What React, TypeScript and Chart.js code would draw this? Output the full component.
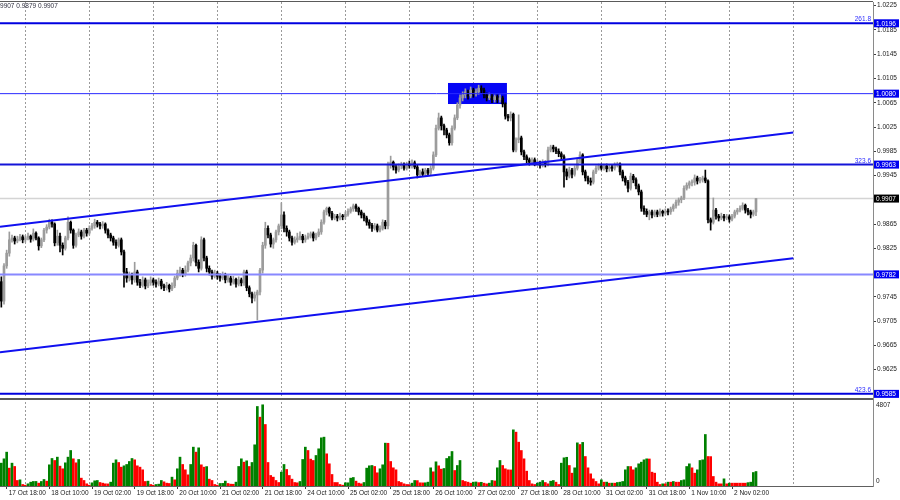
import React, { useEffect, useRef } from "react";
import { Chart, registerables } from "chart.js";

Chart.register(...registerables);

// ---- DATA ----
// hourly candles [open, high, low, close], first bar = 17 Oct 16:00
const ohlc: [number, number, number, number][] = [
  [0.9770,0.9778,0.9728,0.9738],[0.9738,0.9800,0.9733,0.9796],[0.9796,0.9822,0.9792,0.9817],[0.9817,0.9852,0.9812,0.9839],
  [0.9839,0.9847,0.9835,0.9842],[0.9842,0.9845,0.9832,0.9837],[0.9837,0.9845,0.9834,0.9840],[0.9840,0.9848,0.9837,0.9844],
  [0.9844,0.9847,0.9834,0.9839],[0.9839,0.9846,0.9835,0.9842],[0.9842,0.9850,0.9839,0.9845],[0.9845,0.9847,0.9835,0.9840],
  [0.9840,0.9857,0.9837,0.9850],[0.9850,0.9852,0.9839,0.9842],[0.9842,0.9844,0.9822,0.9829],[0.9829,0.9842,0.9826,0.9839],
  [0.9839,0.9858,0.9836,0.9855],[0.9855,0.9864,0.9850,0.9860],[0.9860,0.9873,0.9857,0.9868],[0.9868,0.9872,0.9860,0.9865],
  [0.9865,0.9867,0.9829,0.9834],[0.9834,0.9855,0.9830,0.9845],[0.9845,0.9850,0.9819,0.9830],[0.9830,0.9834,0.9814,0.9825],
  [0.9825,0.9845,0.9822,0.9842],[0.9842,0.9877,0.9839,0.9868],[0.9868,0.9870,0.9850,0.9855],[0.9855,0.9857,0.9825,0.9830],
  [0.9830,0.9850,0.9827,0.9847],[0.9847,0.9857,0.9844,0.9852],[0.9852,0.9855,0.9840,0.9845],[0.9845,0.9858,0.9842,0.9855],
  [0.9855,0.9858,0.9845,0.9850],[0.9850,0.9862,0.9847,0.9858],[0.9858,0.9866,0.9855,0.9862],[0.9862,0.9873,0.9858,0.9868],
  [0.9868,0.9871,0.9860,0.9865],[0.9865,0.9868,0.9857,0.9862],[0.9862,0.9869,0.9858,0.9865],[0.9865,0.9867,0.9850,0.9855],
  [0.9855,0.9857,0.9842,0.9847],[0.9847,0.9850,0.9837,0.9842],[0.9842,0.9845,0.9830,0.9835],[0.9835,0.9839,0.9825,0.9830],
  [0.9830,0.9842,0.9827,0.9839],[0.9839,0.9842,0.9814,0.9819],[0.9819,0.9822,0.9761,0.9786],[0.9786,0.9792,0.9769,0.9776],
  [0.9776,0.9786,0.9771,0.9781],[0.9781,0.9784,0.9766,0.9773],[0.9773,0.9802,0.9769,0.9786],[0.9786,0.9789,0.9764,0.9769],
  [0.9769,0.9774,0.9760,0.9764],[0.9764,0.9778,0.9761,0.9773],[0.9773,0.9776,0.9758,0.9763],[0.9763,0.9773,0.9760,0.9768],
  [0.9768,0.9778,0.9764,0.9773],[0.9773,0.9776,0.9764,0.9769],[0.9769,0.9773,0.9761,0.9766],[0.9766,0.9776,0.9763,0.9771],
  [0.9771,0.9774,0.9758,0.9763],[0.9763,0.9766,0.9755,0.9760],[0.9760,0.9769,0.9756,0.9764],[0.9764,0.9766,0.9753,0.9758],
  [0.9758,0.9768,0.9755,0.9763],[0.9763,0.9779,0.9760,0.9776],[0.9776,0.9789,0.9773,0.9784],[0.9784,0.9794,0.9779,0.9789],
  [0.9789,0.9792,0.9778,0.9783],[0.9783,0.9796,0.9779,0.9789],[0.9789,0.9804,0.9786,0.9801],[0.9801,0.9814,0.9796,0.9809],
  [0.9809,0.9835,0.9804,0.9830],[0.9830,0.9832,0.9796,0.9802],[0.9802,0.9806,0.9786,0.9792],[0.9792,0.9844,0.9789,0.9839],
  [0.9839,0.9842,0.9804,0.9809],[0.9809,0.9812,0.9786,0.9792],[0.9792,0.9796,0.9781,0.9786],[0.9786,0.9789,0.9774,0.9779],
  [0.9779,0.9789,0.9776,0.9784],[0.9784,0.9787,0.9774,0.9779],[0.9779,0.9783,0.9771,0.9776],[0.9776,0.9786,0.9773,0.9781],
  [0.9781,0.9784,0.9768,0.9773],[0.9773,0.9781,0.9769,0.9776],[0.9776,0.9779,0.9764,0.9769],[0.9769,0.9779,0.9766,0.9774],
  [0.9774,0.9776,0.9761,0.9766],[0.9766,0.9778,0.9763,0.9773],[0.9773,0.9776,0.9763,0.9768],[0.9768,0.9789,0.9764,0.9786],
  [0.9786,0.9789,0.9755,0.9760],[0.9760,0.9763,0.9745,0.9750],[0.9750,0.9753,0.9735,0.9743],[0.9743,0.9753,0.9738,0.9748],
  [0.9748,0.9756,0.9707,0.9753],[0.9753,0.9792,0.9748,0.9789],[0.9789,0.9835,0.9784,0.9830],[0.9830,0.9868,0.9825,0.9858],
  [0.9858,0.9862,0.9842,0.9847],[0.9847,0.9850,0.9827,0.9832],[0.9832,0.9842,0.9825,0.9839],[0.9839,0.9855,0.9835,0.9852],
  [0.9852,0.9865,0.9847,0.9862],[0.9862,0.9900,0.9857,0.9880],[0.9880,0.9885,0.9852,0.9858],[0.9858,0.9862,0.9845,0.9852],
  [0.9852,0.9855,0.9837,0.9842],[0.9842,0.9845,0.9830,0.9835],[0.9835,0.9844,0.9832,0.9839],[0.9839,0.9850,0.9835,0.9842],
  [0.9842,0.9852,0.9839,0.9845],[0.9845,0.9848,0.9834,0.9839],[0.9839,0.9847,0.9835,0.9842],[0.9842,0.9850,0.9840,0.9845],
  [0.9845,0.9852,0.9842,0.9849],[0.9849,0.9852,0.9837,0.9842],[0.9842,0.9850,0.9839,0.9847],[0.9847,0.9857,0.9844,0.9852],
  [0.9852,0.9872,0.9848,0.9868],[0.9868,0.9888,0.9865,0.9885],[0.9885,0.9893,0.9880,0.9891],[0.9891,0.9893,0.9878,0.9883],
  [0.9883,0.9886,0.9872,0.9875],[0.9875,0.9881,0.9872,0.9878],[0.9878,0.9881,0.9870,0.9875],[0.9875,0.9883,0.9872,0.9878],
  [0.9878,0.9881,0.9872,0.9877],[0.9877,0.9885,0.9873,0.9881],[0.9881,0.9890,0.9878,0.9886],[0.9886,0.9893,0.9883,0.9890],
  [0.9890,0.9898,0.9886,0.9895],[0.9895,0.9898,0.9886,0.9891],[0.9891,0.9893,0.9880,0.9885],[0.9885,0.9888,0.9875,0.9880],
  [0.9880,0.9883,0.9870,0.9875],[0.9875,0.9878,0.9863,0.9868],[0.9868,0.9872,0.9858,0.9863],[0.9863,0.9866,0.9853,0.9858],
  [0.9858,0.9866,0.9855,0.9862],[0.9862,0.9865,0.9852,0.9855],[0.9855,0.9862,0.9852,0.9858],[0.9858,0.9872,0.9855,0.9868],
  [0.9868,0.9871,0.9857,0.9862],[0.9862,0.9967,0.9857,0.9962],[0.9962,0.9977,0.9957,0.9967],[0.9967,0.9969,0.9954,0.9959],
  [0.9959,0.9962,0.9949,0.9954],[0.9954,0.9964,0.9951,0.9961],[0.9961,0.9967,0.9956,0.9962],[0.9962,0.9966,0.9954,0.9957],
  [0.9957,0.9967,0.9954,0.9964],[0.9964,0.9969,0.9957,0.9961],[0.9961,0.9971,0.9957,0.9966],[0.9966,0.9969,0.9956,0.9959],
  [0.9959,0.9962,0.9941,0.9946],[0.9946,0.9954,0.9944,0.9951],[0.9951,0.9956,0.9944,0.9947],[0.9947,0.9957,0.9944,0.9954],
  [0.9954,0.9957,0.9946,0.9949],[0.9949,0.9961,0.9946,0.9957],[0.9957,0.9984,0.9954,0.9979],[0.9979,1.0028,0.9976,1.0023],
  [1.0023,1.0048,1.0020,1.0040],[1.0040,1.0043,1.0020,1.0027],[1.0027,1.0030,1.0012,1.0020],[1.0020,1.0023,1.0007,1.0012],
  [1.0012,1.0015,0.9995,0.9999],[0.9999,1.0027,0.9995,1.0023],[1.0023,1.0045,1.0020,1.0040],[1.0040,1.0065,1.0037,1.0061],
  [1.0061,1.0078,1.0056,1.0073],[1.0073,1.0083,1.0068,1.0078],[1.0078,1.0088,1.0073,1.0083],[1.0083,1.0086,1.0071,1.0076],
  [1.0076,1.0091,1.0073,1.0086],[1.0086,1.0089,1.0074,1.0079],[1.0079,1.0088,1.0076,1.0083],[1.0083,1.0094,1.0079,1.0089],
  [1.0089,1.0093,1.0081,1.0086],[1.0086,1.0089,1.0073,1.0078],[1.0078,1.0081,1.0068,1.0073],[1.0073,1.0081,1.0070,1.0076],
  [1.0076,1.0079,1.0065,1.0070],[1.0070,1.0078,1.0066,1.0075],[1.0075,1.0078,1.0065,1.0070],[1.0070,1.0078,1.0066,1.0073],
  [1.0073,1.0076,1.0058,1.0063],[1.0063,1.0065,1.0038,1.0043],[1.0043,1.0046,1.0035,1.0040],[1.0040,1.0050,1.0035,1.0046],
  [1.0046,1.0048,0.9984,0.9987],[0.9987,1.0007,0.9984,1.0004],[1.0004,1.0045,0.9999,1.0007],[1.0007,1.0010,0.9979,0.9984],
  [0.9984,0.9987,0.9971,0.9976],[0.9976,0.9979,0.9966,0.9971],[0.9971,0.9974,0.9962,0.9967],[0.9967,0.9974,0.9964,0.9971],
  [0.9971,0.9974,0.9961,0.9966],[0.9966,0.9971,0.9962,0.9967],[0.9967,0.9969,0.9957,0.9962],[0.9962,0.9971,0.9959,0.9967],
  [0.9967,0.9969,0.9959,0.9964],[0.9964,0.9992,0.9961,0.9987],[0.9987,0.9995,0.9984,0.9992],[0.9992,0.9995,0.9984,0.9989],
  [0.9989,0.9992,0.9981,0.9985],[0.9985,0.9989,0.9976,0.9981],[0.9981,0.9984,0.9971,0.9976],[0.9976,0.9979,0.9926,0.9951],
  [0.9951,0.9956,0.9938,0.9944],[0.9944,0.9959,0.9941,0.9954],[0.9954,0.9957,0.9941,0.9947],[0.9947,0.9961,0.9944,0.9957],
  [0.9957,0.9974,0.9954,0.9971],[0.9971,0.9984,0.9966,0.9979],[0.9979,0.9981,0.9946,0.9951],[0.9951,0.9954,0.9936,0.9941],
  [0.9941,0.9944,0.9931,0.9936],[0.9936,0.9941,0.9929,0.9934],[0.9934,0.9954,0.9931,0.9951],[0.9951,0.9961,0.9948,0.9957],
  [0.9957,0.9964,0.9954,0.9961],[0.9961,0.9964,0.9954,0.9957],[0.9957,0.9964,0.9954,0.9961],[0.9961,0.9964,0.9951,0.9956],
  [0.9956,0.9962,0.9952,0.9959],[0.9959,0.9962,0.9952,0.9957],[0.9957,0.9966,0.9954,0.9962],[0.9962,0.9967,0.9959,0.9964],
  [0.9964,0.9966,0.9946,0.9951],[0.9951,0.9954,0.9936,0.9941],[0.9941,0.9944,0.9929,0.9934],[0.9934,0.9937,0.9918,0.9924],
  [0.9924,0.9949,0.9921,0.9944],[0.9944,0.9947,0.9933,0.9938],[0.9938,0.9941,0.9923,0.9928],[0.9928,0.9931,0.9913,0.9918],
  [0.9918,0.9921,0.9886,0.9891],[0.9891,0.9895,0.9881,0.9886],[0.9886,0.9890,0.9877,0.9881],[0.9881,0.9888,0.9872,0.9885],
  [0.9885,0.9888,0.9875,0.9880],[0.9880,0.9888,0.9877,0.9885],[0.9885,0.9888,0.9877,0.9881],[0.9881,0.9890,0.9878,0.9886],
  [0.9886,0.9888,0.9878,0.9883],[0.9883,0.9890,0.9880,0.9886],[0.9886,0.9890,0.9880,0.9885],[0.9885,0.9893,0.9881,0.9890],
  [0.9890,0.9898,0.9886,0.9895],[0.9895,0.9905,0.9891,0.9901],[0.9901,0.9908,0.9896,0.9905],[0.9905,0.9911,0.9900,0.9908],
  [0.9908,0.9928,0.9905,0.9924],[0.9924,0.9933,0.9921,0.9929],[0.9929,0.9936,0.9924,0.9933],[0.9933,0.9938,0.9928,0.9934],
  [0.9934,0.9946,0.9929,0.9941],[0.9941,0.9944,0.9931,0.9936],[0.9936,0.9942,0.9933,0.9938],[0.9938,0.9944,0.9934,0.9941],
  [0.9941,0.9954,0.9933,0.9936],[0.9936,0.9938,0.9867,0.9872],[0.9872,0.9875,0.9855,0.9868],[0.9868,0.9908,0.9865,0.9888],
  [0.9888,0.9891,0.9873,0.9878],[0.9878,0.9881,0.9870,0.9875],[0.9875,0.9883,0.9872,0.9878],[0.9878,0.9881,0.9870,0.9875],
  [0.9875,0.9881,0.9872,0.9877],[0.9877,0.9880,0.9868,0.9873],[0.9873,0.9881,0.9870,0.9878],[0.9878,0.9888,0.9875,0.9885],
  [0.9885,0.9891,0.9881,0.9888],[0.9888,0.9895,0.9885,0.9891],[0.9891,0.9900,0.9888,0.9896],[0.9896,0.9898,0.9883,0.9888],
  [0.9888,0.9891,0.9880,0.9885],[0.9885,0.9888,0.9875,0.9881],[0.9881,0.9888,0.9878,0.9885],[0.9885,0.9907,0.9879,0.9907],
];

const volumes: number[] = [
  1353,1609,2004,1057,1353,1156,327,366,90,50,
  130,228,268,270,169,268,386,287,1254,1629,
  1511,1708,1175,1018,1372,1708,2102,1609,1372,1570,
  465,327,130,50,189,307,327,208,169,130,
  125,228,1353,1550,1392,1116,1195,1274,1451,1629,
  1550,1195,1116,958,268,287,90,50,90,110,
  327,248,169,150,524,366,1018,1708,1274,958,
  662,1274,2300,2004,2260,1254,1116,1150,406,327,
  90,50,150,155,290,150,110,105,228,1156,
  1609,1412,1491,1156,1392,2438,4707,4075,4807,3641,
  1392,623,524,327,208,820,1274,978,623,406,
  208,189,268,1570,2300,2102,1590,1511,1806,2201,
  2852,2892,1905,1313,682,208,205,90,50,189,
  190,465,504,287,169,130,208,1057,1195,1215,
  1156,781,1018,1254,2537,2530,1451,1077,958,268,
  208,130,90,85,169,327,320,189,185,190,
  228,1077,840,1431,1195,998,1037,1629,1746,2042,
  918,1214,1510,326,267,227,168,227,240,200,
  220,168,128,168,326,300,1076,1510,1214,1017,
  957,950,3325,3187,2595,2101,1608,878,326,128,
  89,168,227,326,207,128,286,326,227,89,
  1352,1668,1700,1214,760,1076,2555,2456,2580,1746,
  1076,720,424,267,128,365,227,230,168,170,
  168,207,227,267,957,1155,1150,957,1076,1313,
  1411,1549,1608,1600,819,760,227,89,128,128,
  227,227,267,227,227,326,365,1155,1313,1076,
  760,957,1510,1549,3049,1746,1740,563,227,128,
  128,424,128,168,168,168,168,168,168,168,
  200,227,799,858,
];

const xTickLabels = [
  "17 Oct 18:00", "18 Oct 10:00", "19 Oct 02:00", "19 Oct 18:00", "20 Oct 10:00",
  "21 Oct 02:00", "21 Oct 18:00", "24 Oct 10:00", "25 Oct 02:00", "25 Oct 18:00",
  "26 Oct 10:00", "27 Oct 02:00", "27 Oct 18:00", "28 Oct 10:00", "31 Oct 02:00",
  "31 Oct 18:00", "1 Nov 10:00", "2 Nov 02:00",
];
const yTickValues = [1.0225, 1.0185, 1.0145, 1.0105, 1.0065, 1.0025, 0.9985, 0.9945, 0.9865, 0.9825, 0.9745, 0.9705, 0.9665, 0.9625];

const levelPrices = [1.0196, 1.008, 0.9963, 0.9782, 0.9585];
const fiboLabels = ["261.8", "", "323.6", "", "423.6"];
const currentPrice = 0.9907;
const headerValues = [0.9907, 0.9879, 0.9907];
const volumeScaleLabels = [4807, 0];

// channel anchors: [bar, price]
const channelUpper: [number, number][] = [[-0.5, 0.98606], [297, 1.00159]];
const channelLower: [number, number][] = [[-0.5, 0.96535], [297, 0.98085]];
// highlighted zone: bars and prices
const zoneBars = [167.5, 189.6];
const zonePrices = [1.00976, 1.00629];

// ---- LAYOUT / STYLE ----
const X_MIN = -0.5;
const X_MAX = 326.875;
const Y_MIN = 0.94331;
const Y_MAX = 1.02311;
const V_MAX = 28650;
const FIRST_LABEL_BAR = 2;
const LABEL_EVERY = 16;
const FIRST_GRID_BAR = 9;
const GRID_EVERY = 24;
const GRID_COUNT = 13;
const FONT = "'Liberation Sans', Arial, sans-serif";
const FS = 6.5;

const levelColors = ["#0000e0", "#2a2aff", "#1414d8", "#8888ff", "#0000dd"];
const levelWidths = [2, 1, 2, 2, 2];
const BULL = "#9c9c9c";
const BEAR = "#000000";
const VOL_UP = "#008000";
const VOL_DOWN = "#ff0000";

const overlayPlugin = {
  id: "mtOverlay",
  beforeDatasetsDraw(chart: any) {
    const { ctx, scales } = chart;
    const x = scales.x, y = scales.y;
    const x0 = x.getPixelForValue(zoneBars[0]);
    const x1 = x.getPixelForValue(zoneBars[1]);
    const y0 = y.getPixelForValue(zonePrices[0]);
    const y1 = y.getPixelForValue(zonePrices[1]);
    ctx.save();
    ctx.fillStyle = "#0505f5";
    ctx.fillRect(x0, y0, x1 - x0, y1 - y0);
    ctx.restore();
  },
  afterDraw(chart: any) {
    const { ctx, scales, chartArea } = chart;
    const y = scales.y, yv = scales.yv;
    ctx.save();
    // top border
    ctx.fillStyle = "#5a5a5a";
    ctx.fillRect(0, 1, chartArea.right, 1);
    // pane separator
    ctx.fillRect(0, 398, chartArea.right, 2);
    ctx.font = `${FS}px ${FONT}`;
    // header
    ctx.fillStyle = "#303040";
    ctx.textAlign = "left";
    ctx.textBaseline = "middle";
    ctx.fillText(headerValues.map((v) => v.toFixed(4)).join(" "), -5.4, 6.5);
    // fibo labels
    ctx.fillStyle = "#2b2bff";
    ctx.textAlign = "right";
    ctx.textBaseline = "bottom";
    levelPrices.forEach((p, i) => {
      if (!fiboLabels[i]) return;
      ctx.fillText(fiboLabels[i], chartArea.right - 2, y.getPixelForValue(p) - 0.5);
    });
    // price boxes
    ctx.textAlign = "left";
    ctx.textBaseline = "middle";
    const box = (p: number, bg: string) => {
      const py = y.getPixelForValue(p);
      ctx.fillStyle = bg;
      ctx.fillRect(chartArea.right + 1, py - 4, 25, 8);
      ctx.fillStyle = "#ffffff";
      ctx.fillText(p.toFixed(4), chartArea.right + 3, py + 0.5);
    };
    levelPrices.forEach((p) => box(p, "#0000f0"));
    box(currentPrice, "#000000");
    // volume labels
    ctx.fillStyle = "#202020";
    ctx.fillText(String(volumeScaleLabels[0]), chartArea.right + 3, yv.getPixelForValue(volumeScaleLabels[0]) + 0.5);
    ctx.fillText(String(volumeScaleLabels[1]), chartArea.right + 3, yv.getPixelForValue(volumeScaleLabels[1]) - 5);
    ctx.restore();
  },
};

function hLine(price: number, color: string, width: number, order: number) {
  return {
    type: "line" as const,
    data: [{ x: X_MIN, y: price }, { x: X_MAX, y: price }],
    borderColor: color,
    borderWidth: width,
    pointRadius: 0,
    tension: 0,
    yAxisID: "y",
    xAxisID: "x",
    order,
  };
}

export default function App() {
  const ref = useRef<HTMLCanvasElement | null>(null);

  useEffect(() => {
    document.body.style.margin = "0";
    const canvas = ref.current;
    if (!canvas) return;

    const wicks = ohlc.map((c, i) => ({ x: i, y: [c[2], c[1]] }));
    const bodies = ohlc.map((c, i) => ({ x: i, y: [c[0], c[3]] }));
    const candleColors = ohlc.map((c) => (c[3] >= c[0] ? BULL : BEAR));
    const vols = volumes.map((v, i) => ({ x: i, y: v }));
    const volColors = volumes.map((v, i) => (i === 0 || v > volumes[i - 1] ? VOL_UP : VOL_DOWN));

    const datasets: any[] = [
      hLine(currentPrice, "#d4d4d4", 1.5, 10),
      {
        type: "bar",
        data: vols,
        backgroundColor: volColors,
        barThickness: 2,
        grouped: false,
        yAxisID: "yv",
        xAxisID: "x",
        order: 9,
      },
      {
        type: "bar",
        data: wicks,
        backgroundColor: candleColors,
        barThickness: 1,
        grouped: false,
        yAxisID: "y",
        xAxisID: "x",
        order: 8,
      },
      {
        type: "bar",
        data: bodies,
        backgroundColor: candleColors,
        barThickness: 2,
        minBarLength: 1,
        grouped: false,
        yAxisID: "y",
        xAxisID: "x",
        order: 7,
      },
      ...levelPrices.map((p, i) => hLine(p, levelColors[i], levelWidths[i], 1)),
      {
        type: "line",
        data: channelUpper.map(([b, p]) => ({ x: b, y: p })),
        borderColor: "#1010f0",
        borderWidth: 2,
        pointRadius: 0,
        yAxisID: "y",
        xAxisID: "x",
        order: 0,
      },
      {
        type: "line",
        data: channelLower.map(([b, p]) => ({ x: b, y: p })),
        borderColor: "#1010f0",
        borderWidth: 2,
        pointRadius: 0,
        yAxisID: "y",
        xAxisID: "x",
        order: 0,
      },
    ];

    const chart = new Chart(canvas, {
      type: "bar",
      data: { datasets },
      options: {
        responsive: false,
        animation: false,
        devicePixelRatio: 1,
        events: [],
        layout: { padding: { top: 2, left: 0, right: 0, bottom: 0 } },
        plugins: { legend: { display: false }, tooltip: { enabled: false } },
        scales: {
          x: {
            type: "linear",
            position: "bottom",
            min: X_MIN,
            max: X_MAX,
            offset: false,
            grid: { display: true, offset: false, drawOnChartArea: false, drawTicks: true, tickLength: 3, tickColor: "#404040" },
            border: { display: true, color: "#606060", width: 1 },
            ticks: {
              autoSkip: false,
              maxRotation: 0,
              minRotation: 0,
              align: "start",
              padding: 0,
              labelOffset: 2,
              color: "#202020",
              font: { family: FONT, size: FS },
              callback: (v: any) => {
                const k = (Number(v) - FIRST_LABEL_BAR) / LABEL_EVERY;
                return xTickLabels[k] ?? "";
              },
            },
            afterBuildTicks: (s: any) => {
              s.ticks = xTickLabels.map((_, k) => ({ value: FIRST_LABEL_BAR + k * LABEL_EVERY }));
            },
            afterFit: (s: any) => {
              s.height = 14;
              s.paddingLeft = 0;
              s.paddingRight = 0;
            },
          },
          xg: {
            type: "linear",
            position: "top",
            min: X_MIN,
            max: X_MAX,
            offset: false,
            grid: { display: true, offset: false, drawOnChartArea: true, drawTicks: false, color: "#9a9a9a", lineWidth: 1 },
            border: { display: false, dash: [2, 2] },
            ticks: { display: false },
            afterBuildTicks: (s: any) => {
              s.ticks = Array.from({ length: GRID_COUNT }, (_, k) => ({ value: FIRST_GRID_BAR + k * GRID_EVERY }));
            },
            afterFit: (s: any) => {
              s.height = 0;
              s.paddingLeft = 0;
              s.paddingRight = 0;
            },
          },
          y: {
            type: "linear",
            position: "right",
            min: Y_MIN,
            max: Y_MAX,
            grid: { display: true, drawOnChartArea: false, drawTicks: true, tickLength: 3, tickColor: "#404040" },
            border: { display: true, color: "#8a8a8a", width: 1 },
            ticks: {
              autoSkip: false,
              padding: 1,
              color: "#202020",
              font: { family: FONT, size: FS },
              callback: (v: any) => Number(v).toFixed(4),
            },
            afterBuildTicks: (s: any) => {
              s.ticks = yTickValues.map((v) => ({ value: v }));
            },
            afterFit: (s: any) => {
              s.width = 27;
              s.paddingTop = 0;
              s.paddingBottom = 0;
            },
          },
          yv: {
            type: "linear",
            display: false,
            position: "right",
            min: 0,
            max: V_MAX,
          },
        },
      } as any,
      plugins: [overlayPlugin],
    });

    return () => chart.destroy();
  }, []);

  return (
    <div style={{ width: 900, height: 500, background: "#ffffff" }}>
      <canvas ref={ref} width={900} height={500} style={{ display: "block" }} />
    </div>
  );
}
